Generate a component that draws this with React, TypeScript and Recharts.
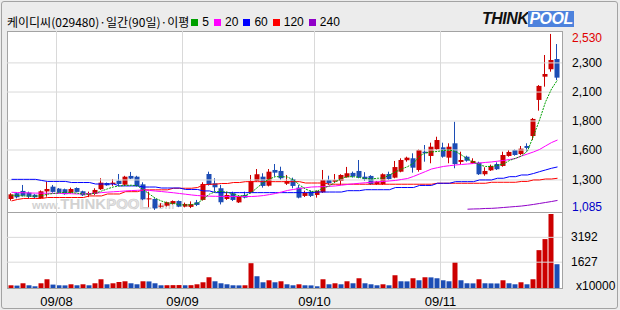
import { ComposedChart, Bar, Line, XAxis, YAxis, ReferenceLine, Cell } from 'recharts';

// daily candles, 2009-07 .. 2009-11 (price in won)
const OPEN = [
  1175, 1222, 1241, 1227, 1210, 1183, 1237, 1276, 1260, 1255, 1227, 1265, 1238, 1210, 1216, 1255,
  1306, 1298, 1325, 1292, 1364, 1358, 1295, 1175, 1175, 1115, 1120, 1136, 1158, 1112, 1110, 1148,
  1167, 1380, 1304, 1263, 1175, 1222, 1147, 1208, 1230, 1323, 1358, 1284, 1413, 1405, 1300, 1339,
  1268, 1200, 1235, 1208, 1230, 1331, 1317, 1323, 1353, 1389, 1405, 1358, 1364, 1296, 1296, 1380,
  1350, 1399, 1493, 1509, 1413, 1563, 1528, 1583, 1599, 1514, 1632, 1479, 1522, 1468, 1473, 1378,
  1410, 1462, 1446, 1528, 1577, 1544, 1610, 1692, 1988, 2179, 2240, 2324,
];
const HIGH = [
  1222, 1230, 1290, 1235, 1215, 1245, 1317, 1290, 1265, 1260, 1268, 1270, 1243, 1235, 1263, 1345,
  1310, 1339, 1380, 1365, 1397, 1365, 1312, 1235, 1180, 1140, 1153, 1163, 1163, 1145, 1155, 1167,
  1312, 1399, 1345, 1290, 1235, 1235, 1200, 1235, 1372, 1421, 1386, 1421, 1462, 1440, 1372, 1350,
  1290, 1243, 1246, 1245, 1413, 1366, 1380, 1378, 1438, 1400, 1495, 1395, 1370, 1323, 1385, 1399,
  1487, 1509, 1522, 1550, 1582, 1618, 1637, 1686, 1637, 1632, 1809, 1563, 1530, 1509, 1481, 1435,
  1457, 1476, 1563, 1577, 1582, 1610, 1632, 1840, 2110, 2357, 2530, 2447,
];
const LOW = [
  1161, 1180, 1195, 1180, 1183, 1180, 1194, 1227, 1220, 1210, 1219, 1228, 1200, 1190, 1208, 1249,
  1283, 1282, 1290, 1285, 1338, 1278, 1165, 1107, 1085, 1103, 1113, 1130, 1108, 1106, 1100, 1117,
  1162, 1285, 1235, 1130, 1167, 1158, 1142, 1180, 1222, 1317, 1268, 1278, 1358, 1331, 1290, 1263,
  1180, 1191, 1191, 1186, 1225, 1290, 1312, 1290, 1350, 1350, 1345, 1323, 1290, 1290, 1290, 1331,
  1345, 1394, 1481, 1391, 1399, 1481, 1468, 1577, 1514, 1468, 1427, 1460, 1481, 1462, 1372, 1366,
  1405, 1413, 1440, 1522, 1530, 1536, 1563, 1659, 1900, 2097, 2220, 2152,
];
const CLOSE = [
  1213, 1189, 1202, 1194, 1189, 1238, 1257, 1233, 1227, 1214, 1257, 1233, 1205, 1220, 1249, 1309,
  1287, 1309, 1298, 1358, 1342, 1282, 1172, 1180, 1098, 1120, 1148, 1158, 1112, 1134, 1132, 1126,
  1298, 1290, 1271, 1148, 1208, 1167, 1195, 1186, 1323, 1378, 1282, 1399, 1391, 1345, 1323, 1282,
  1186, 1227, 1200, 1241, 1331, 1304, 1331, 1372, 1386, 1362, 1353, 1337, 1296, 1317, 1378, 1339,
  1437, 1495, 1514, 1432, 1577, 1550, 1604, 1659, 1522, 1604, 1462, 1495, 1489, 1487, 1378, 1405,
  1446, 1419, 1536, 1561, 1536, 1588, 1594, 1832, 2103, 2201, 2316, 2171,
];
// volume, x10000 shares
const VOLUME = [
  171, 152, 298, 171, 108, 298, 551, 215, 171, 165, 234, 171, 234, 171, 298, 551,
  234, 298, 380, 424, 298, 234, 424, 415, 298, 171, 175, 180, 185, 172, 178, 234,
  361, 677, 424, 298, 234, 171, 165, 172, 1563, 741, 361, 487, 361, 424, 234, 171,
  234, 171, 165, 108, 551, 234, 298, 234, 424, 298, 614, 298, 234, 171, 234, 171,
  804, 424, 418, 614, 487, 677, 670, 614, 487, 424, 1627, 487, 298, 292, 551, 298,
  292, 286, 487, 298, 234, 361, 234, 551, 2386, 3083, 4665, 1500,
];

// moving averages as drawn on the chart
const MA5 = [
  1205, 1203, 1200, 1198, 1197, 1202, 1214, 1220, 1226, 1230, 1228, 1222, 1216, 1216, 1222, 1240,
  1258, 1274, 1282, 1287, 1288, 1283, 1250, 1215, 1180, 1158, 1142, 1138, 1128, 1125, 1128, 1140,
  1175, 1215, 1235, 1235, 1230, 1215, 1200, 1205, 1228, 1270, 1310, 1340, 1358, 1358, 1355, 1331,
  1290, 1257, 1236, 1241, 1265, 1282, 1315, 1345, 1358, 1358, 1351, 1343, 1339, 1345, 1347, 1372,
  1397, 1421, 1440, 1468, 1528, 1553, 1561, 1565, 1573, 1577, 1565, 1536, 1503, 1479, 1454, 1442,
  1442, 1450, 1462, 1491, 1509, 1528, 1569, 1692, 1823, 1971, 2078, 2152,
];
const MA20 = [
  1230, 1228, 1226, 1224, 1223, 1223, 1222, 1221, 1221, 1220, 1218, 1216, 1217, 1219, 1223, 1227,
  1231, 1234, 1237, 1241, 1244, 1246, 1249, 1245, 1240, 1236, 1231, 1226, 1220, 1214, 1208, 1203,
  1200, 1198, 1197, 1196, 1195, 1195, 1195, 1195, 1195, 1198, 1203, 1211, 1220, 1232, 1245, 1253,
  1261, 1267, 1273, 1275, 1276, 1279, 1282, 1288, 1294, 1299, 1304, 1308, 1312, 1316, 1319, 1323,
  1327, 1335, 1343, 1360, 1380, 1400, 1421, 1432, 1442, 1448, 1454, 1458, 1462, 1466, 1470, 1475,
  1479, 1485, 1491, 1499, 1507, 1528, 1544, 1561, 1581, 1610, 1638, 1659,
];
const MA60 = [
  1336, 1336, 1336, 1336, 1336, 1327, 1319, 1319, 1319, 1319, 1310, 1310, 1310, 1310, 1298, 1298,
  1298, 1298, 1282, 1282, 1282, 1282, 1273, 1273, 1273, 1265, 1265, 1265, 1265, 1253, 1253, 1253,
  1241, 1241, 1227, 1227, 1227, 1227, 1227, 1227, 1227, 1227, 1227, 1227, 1227, 1227, 1227, 1227,
  1227, 1227, 1227, 1232, 1232, 1232, 1232, 1232, 1243, 1243, 1243, 1251, 1251, 1251, 1251, 1251,
  1269, 1269, 1269, 1269, 1286, 1286, 1286, 1304, 1304, 1304, 1317, 1317, 1317, 1317, 1331, 1331,
  1331, 1345, 1345, 1358, 1358, 1372, 1372, 1384, 1399, 1413, 1427, 1438,
];
const MA120 = [
  1159, 1171, 1179, 1179, 1179, 1179, 1187, 1187, 1187, 1187, 1187, 1187, 1187, 1200, 1200, 1200,
  1216, 1216, 1216, 1235, 1235, 1235, 1250, 1250, 1250, 1250, 1250, 1263, 1263, 1263, 1263, 1269,
  1290, 1296, 1296, 1302, 1302, 1310, 1310, 1317, 1317, 1317, 1317, 1317, 1317, 1317, 1317, 1317,
  1317, 1306, 1306, 1306, 1306, 1296, 1296, 1296, 1296, 1296, 1296, 1296, 1296, 1296, 1296, 1296,
  1296, 1296, 1296, 1296, 1296, 1296, 1296, 1304, 1304, 1304, 1304, 1304, 1304, 1304, 1304, 1304,
  1312, 1312, 1312, 1312, 1312, 1319, 1319, 1331, 1331, 1339, 1339, 1345,
];
// 240-day line only exists for the last days
const MA240_START = 76;
const MA240 = [1091, 1093, 1094, 1097, 1098, 1101, 1105, 1109, 1113, 1117, 1123, 1130, 1138, 1146, 1154, 1163];

const MONTH_LABELS = ['09/08', '09/09', '09/10', '09/11'];
const MONTH_FIRST_DAY = [8, 29, 51, 72];

const PRICE_TICKS = [1110, 1331, 1577, 1815, 2053, 2292, 2497];
const PRICE_TICK_LABELS = ['1,085', '1,300', '1,600', '1,800', '2,100', '2,300', '2,530'];
const VOL_TICKS = [0, 1627, 3192];
const VOL_TICK_LABELS = ['x10000', '1627', '3192'];

const RED = '#cc0000';
const BLUE = '#1c4db5';
const GRID = '#d9d9d9';
const FRAME = '#a3a3a3';
const FONT = '"Liberation Sans", Arial, sans-serif';

const rows = CLOSE.map((c, i) => ({
  i,
  open: OPEN[i],
  high: HIGH[i],
  low: LOW[i],
  close: c,
  range: [LOW[i], HIGH[i]],
  vol: VOLUME[i],
  ma5: MA5[i],
  ma20: MA20[i],
  ma60: MA60[i],
  ma120: MA120[i],
  ma240: i >= MA240_START ? MA240[i - MA240_START] : null,
}));

const monthTicks = MONTH_FIRST_DAY.map((d) => d - 0.5);
const X_DOMAIN = [-0.75, 91.75];

const Candle = (props: any) => {
  const { x, y, width, height, payload } = props;
  if (!payload) return null;
  const { open, close, high, low } = payload;
  const color = close >= open ? RED : BLUE;
  const top = Math.min(y, y + height);
  const h = Math.abs(height);
  const k = high > low ? h / (high - low) : 0;
  const bodyTop = top + (high - Math.max(open, close)) * k;
  const bodyBot = top + (high - Math.min(open, close)) * k;
  const cx = Math.round(x + width / 2) - 0.5;
  return (
    <g>
      <line x1={cx} x2={cx} y1={top} y2={top + h} stroke={color} strokeWidth={1} />
      <rect x={x} y={bodyTop} width={width} height={Math.max(1, bodyBot - bodyTop)} fill={color} />
    </g>
  );
};

const PriceTick = (props: any) => {
  const { x, y, payload } = props;
  const k = PRICE_TICKS.indexOf(payload.value);
  const fill = k === PRICE_TICKS.length - 1 ? '#e00000' : k === 0 ? '#0000c8' : '#000';
  return (
    <text x={x} y={y} dy={4} textAnchor="start" fontSize={12} fontFamily={FONT} fill={fill}>
      {PRICE_TICK_LABELS[k]}
    </text>
  );
};

const VolTick = (props: any) => {
  const { x, y, payload } = props;
  const k = VOL_TICKS.indexOf(payload.value);
  return (
    <text x={k === 0 ? x + 5 : x} y={k === 0 ? y - 2 : y} dy={4} textAnchor="start" fontSize={12} fontFamily={FONT} fill="#000">
      {VOL_TICK_LABELS[k]}
    </text>
  );
};

const MA_LEGEND = [
  { label: '5', color: '#00a000' },
  { label: '20', color: '#ff00ff' },
  { label: '60', color: '#0000ff' },
  { label: '120', color: '#ff0000' },
  { label: '240', color: '#9000c8' },
];

export default function App() {
  return (
    <div
      style={{
        position: 'absolute',
        left: 0,
        top: 0,
        width: 620,
        height: 310,
        background: '#ececec',
        overflow: 'hidden',
        fontFamily: FONT,
      }}
    >
      {/* outer frame */}
      <div
        style={{
          position: 'absolute',
          left: 1,
          top: 1,
          width: 617,
          height: 308,
          border: `1px solid ${FRAME}`,
          borderRadius: 3,
          boxSizing: 'border-box',
        }}
      />
      {/* plot panel */}
      <div
        style={{
          position: 'absolute',
          left: 7,
          top: 31,
          width: 556,
          height: 258,
          background: '#fff',
          border: `1px solid ${FRAME}`,
          boxSizing: 'border-box',
        }}
      />
      <div style={{ position: 'absolute', left: 7, top: 212, width: 556, height: 1, background: FRAME }} />

      {/* watermark */}
      <div
        style={{
          position: 'absolute',
          left: 32,
          top: 196,
          display: 'flex',
          alignItems: 'baseline',
          color: '#d2d2d2',
          whiteSpace: 'nowrap',
          lineHeight: '15px',
          fontFamily: FONT,
          fontWeight: 700,
        }}
      >
        <span style={{ fontSize: 11 }}>www.</span>
        <span style={{ fontSize: 15, fontWeight: 900 }}>THINK</span>
        <span style={{ fontSize: 15, fontWeight: 900, color: '#e4e4e4', WebkitTextStroke: '0.6px #cccccc' }}>POOL</span>
        <span style={{ fontSize: 11 }}>.com</span>
      </div>

      {/* title + legend */}
      <div
        style={{
          position: 'absolute',
          left: 7,
          top: 16,
          display: 'flex',
          alignItems: 'center',
          fontSize: 12,
          lineHeight: '12px',
          fontFamily: '"Noto Sans CJK KR", "Noto Sans", sans-serif',
          color: '#000',
          whiteSpace: 'nowrap',
        }}
      >
        <span style={{ marginRight: 2 }}>케이디씨(029480)·일간(90일)·이평</span>
        {MA_LEGEND.map((m) => (
          <span key={m.label} style={{ display: 'flex', alignItems: 'center', marginRight: 5 }}>
            <span style={{ width: 7, height: 7, background: m.color, marginRight: 4 }} />
            <span style={{ fontFamily: FONT }}>{m.label}</span>
          </span>
        ))}
      </div>

      {/* logo */}
      <div
        style={{
          position: 'absolute',
          left: 482,
          top: 11,
          display: 'flex',
          alignItems: 'center',
          fontSize: 16,
          lineHeight: '16px',
          fontWeight: 900,
          fontStyle: 'italic',
          fontFamily: FONT,
          letterSpacing: -0.5,
        }}
      >
        <span style={{ color: '#111' }}>THINK</span>
        <span style={{ color: '#fff', background: '#4d82dd', padding: '0 1px' }}>POOL</span>
      </div>

      {/* price panel */}
      <div style={{ position: 'absolute', left: 0, top: 0 }}>
        <ComposedChart width={620} height={224} data={rows} margin={{ top: 31, right: 0, bottom: 12, left: 7 }}>
          <XAxis type="number" dataKey="i" domain={X_DOMAIN} allowDataOverflow hide />
          <YAxis
            orientation="right"
            width={58}
            domain={[1068, 2554]}
            allowDataOverflow
            ticks={PRICE_TICKS}
            interval={0}
            tick={(p: any) => <PriceTick {...p} />}
            tickSize={0}
            tickMargin={10}
            axisLine={false}
            tickLine={false}
          />
          {PRICE_TICKS.slice(1, -1).map((v) => (
            <ReferenceLine key={'h' + v} y={v} stroke={GRID} strokeWidth={1} />
          ))}
          {monthTicks.map((v) => (
            <ReferenceLine key={'v' + v} x={v} stroke={GRID} strokeWidth={1} />
          ))}
          <Line type="linear" dataKey="ma240" stroke="#9000c8" strokeWidth={1} dot={false} isAnimationActive={false} />
          <Line type="linear" dataKey="ma120" stroke="#ff0000" strokeWidth={1} dot={false} isAnimationActive={false} />
          <Line type="linear" dataKey="ma60" stroke="#0000ff" strokeWidth={1} dot={false} isAnimationActive={false} />
          <Line type="linear" dataKey="ma20" stroke="#ff00ff" strokeWidth={1} dot={false} isAnimationActive={false} />
          <Bar dataKey="range" barSize={5} isAnimationActive={false} shape={(p: any) => <Candle {...p} />} />
          <Line
            type="linear"
            dataKey="ma5"
            stroke="#00a000"
            strokeWidth={1}
            strokeDasharray="2 1"
            dot={false}
            isAnimationActive={false}
          />
        </ComposedChart>
      </div>

      {/* volume panel */}
      <div style={{ position: 'absolute', left: 0, top: 212 }}>
        <ComposedChart width={620} height={98} data={rows} margin={{ top: 0, right: 0, bottom: 0, left: 7 }}>
          <XAxis
            type="number"
            dataKey="i"
            domain={X_DOMAIN}
            allowDataOverflow
            ticks={monthTicks}
            interval={0}
            tickFormatter={(v: number) => MONTH_LABELS[monthTicks.indexOf(v)] ?? ''}
            height={22}
            tickSize={0}
            tickMargin={9}
            axisLine={false}
            tickLine={false}
            tick={{ fontSize: 13, fill: '#000', fontFamily: FONT }}
          />
          <YAxis
            orientation="right"
            width={58}
            domain={[0, 4790]}
            allowDataOverflow
            ticks={VOL_TICKS}
            interval={0}
            tick={(p: any) => <VolTick {...p} />}
            tickSize={0}
            tickMargin={9}
            axisLine={false}
            tickLine={false}
          />
          {VOL_TICKS.slice(1).map((v) => (
            <ReferenceLine key={'vh' + v} y={v} stroke={GRID} strokeWidth={1} />
          ))}
          {monthTicks.map((v) => (
            <ReferenceLine key={'vv' + v} x={v} stroke={GRID} strokeWidth={1} />
          ))}
          <Bar dataKey="vol" barSize={5} isAnimationActive={false}>
            {rows.map((r, i) => (
              <Cell key={i} fill={i === 0 || r.vol > rows[i - 1].vol ? RED : BLUE} />
            ))}
          </Bar>
        </ComposedChart>
      </div>
    </div>
  );
}
